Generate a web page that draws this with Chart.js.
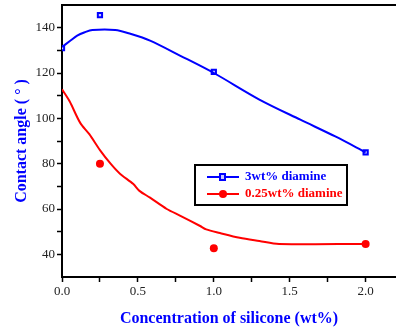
<!DOCTYPE html>
<html>
<head>
<meta charset="utf-8">
<script src="https://cdn.jsdelivr.net/npm/chart.js@4"></script>
<style>
  html, body { margin: 0; padding: 0; background: #fff; }
  #wrap { width: 396px; height: 328px; }
</style>
</head>
<body>
<div id="wrap"><canvas id="myCanvas" width="396" height="328"></canvas></div>
<script>
// measured points
const blueX = [0, 0.25, 1.0, 2.0];
const blueY = [131, 145.5, 120.5, 85];
const redX = [0.25, 1.0, 2.0];
const redY = [80, 42.7, 44.6];

// fitted curves
const blueFitX = [0, 0.05, 0.1, 0.15, 0.2, 0.35, 0.45, 0.58, 0.78, 1.0, 1.3, 1.57, 1.8, 2.0];
const blueFitY = [131.5, 134, 136.5, 138, 139, 139, 137.3, 134.3, 127.6, 120, 108.3, 99.4, 92, 85];
const redFitX = [0, 0.05, 0.12, 0.18, 0.25, 0.32, 0.38, 0.47, 0.51, 0.58, 0.69, 0.78, 0.91, 0.95, 1.04, 1.17, 1.3, 1.43, 2.0];
const redFitY = [112.8, 107.5, 98, 93, 86, 80, 75.7, 71, 68, 65, 60, 57, 52.5, 51, 49.4, 47.3, 45.9, 44.6, 44.6];

const xTicks = [0, 0.25, 0.5, 0.75, 1.0, 1.25, 1.5, 1.75, 2.0];
const yTicks = [40, 50, 60, 70, 80, 90, 100, 110, 120, 130, 140];

const seriesNames = ['3wt% diamine', '0.25wt% diamine'];
const blue = '#0000ff';
const red = '#ff0000';
const serif = '"Liberation Serif", "Times New Roman", serif';

const pts = (xs, ys) => xs.map((x, i) => ({ x: x, y: ys[i] }));

// top border line + legend box
const frame = {
  id: 'frame',
  afterDraw(chart) {
    const ctx = chart.ctx;
    const a = chart.chartArea;
    ctx.save();
    ctx.strokeStyle = '#000';
    ctx.lineWidth = 2;
    ctx.beginPath();
    ctx.moveTo(a.left - 1, a.top);
    ctx.lineTo(a.right, a.top);
    ctx.stroke();

    // legend
    const lx = 195, ly = 165, lw = 152, lh = 40;
    ctx.fillStyle = '#fff';
    ctx.fillRect(lx, ly, lw, lh);
    ctx.lineWidth = 2;
    ctx.strokeRect(lx, ly, lw, lh);
    const rows = [
      { c: blue, y: ly + 12, marker: 'rect' },
      { c: red, y: ly + 29, marker: 'circle' }
    ];
    rows.forEach((r, i) => {
      ctx.strokeStyle = r.c;
      ctx.lineWidth = 2;
      ctx.beginPath();
      ctx.moveTo(lx + 12, r.y);
      ctx.lineTo(lx + 44, r.y);
      ctx.stroke();
      if (r.marker === 'rect') {
        ctx.fillStyle = '#c8c8ff';
        ctx.fillRect(lx + 25, r.y - 3, 5, 6);
        ctx.strokeRect(lx + 25, r.y - 3, 5, 6);
      } else {
        ctx.fillStyle = r.c;
        ctx.beginPath();
        ctx.arc(lx + 28, r.y, 4, 0, Math.PI * 2);
        ctx.fill();
      }
      ctx.fillStyle = r.c;
      ctx.font = 'bold 13px ' + serif;
      ctx.textBaseline = 'middle';
      ctx.fillText(seriesNames[i], lx + 50, r.y);
    });
    ctx.restore();
  }
};

const config = {
  type: 'scatter',
  data: {
    datasets: [
      {
        label: seriesNames[0] + ' fit',
        data: pts(blueFitX, blueFitY),
        showLine: true,
        borderColor: blue,
        borderWidth: 2,
        pointRadius: 0,
        tension: 0.3
      },
      {
        label: seriesNames[1] + ' fit',
        data: pts(redFitX, redFitY),
        showLine: true,
        borderColor: red,
        borderWidth: 2,
        pointRadius: 0,
        tension: 0.3
      },
      {
        label: seriesNames[0],
        data: pts(blueX, blueY),
        pointStyle: 'rect',
        pointRadius: 3,
        borderColor: blue,
        backgroundColor: '#c8c8ff',
        borderWidth: 2
      },
      {
        label: seriesNames[1],
        data: pts(redX, redY),
        pointStyle: 'circle',
        pointRadius: 4,
        borderColor: red,
        backgroundColor: red,
        borderWidth: 0
      }
    ]
  },
  options: {
    responsive: false,
    animation: false,
    layout: { autoPadding: false, padding: { top: 5, right: 0, left: 0, bottom: 0 } },
    plugins: {
      legend: { display: false },
      tooltip: { enabled: false }
    },
    scales: {
      x: {
        type: 'linear',
        min: 0,
        max: 2.2,
        afterFit: s => { s.height = 51; s.paddingLeft = 0; s.paddingRight = 0; },
        afterBuildTicks: s => { s.ticks = xTicks.map(v => ({ value: v })); },
        border: { display: true, color: '#000', width: 2 },
        grid: { drawOnChartArea: false, drawTicks: true, tickLength: 5, color: '#000', tickWidth: 1.5 },
        ticks: {
          color: '#222',
          font: { family: serif, size: 13 },
          padding: 2,
          maxRotation: 0,
          autoSkip: false,
          callback: v => (Math.abs(v * 2 - Math.round(v * 2)) < 1e-6 ? v.toFixed(1) : '')
        },
        title: {
          display: true,
          text: 'Concentration of silicone (wt%)',
          color: blue,
          font: { family: serif, size: 16, weight: 'bold' },
          padding: { top: 6, bottom: 0 }
        }
      },
      y: {
        min: 30,
        max: 150,
        afterFit: s => { s.width = 62; s.paddingTop = 0; s.paddingBottom = 0; },
        afterBuildTicks: s => { s.ticks = yTicks.map(v => ({ value: v })); },
        border: { display: true, color: '#000', width: 2 },
        grid: { drawOnChartArea: false, drawTicks: true, tickLength: 5, color: '#000', tickWidth: 1.5 },
        ticks: {
          color: '#222',
          font: { family: serif, size: 13 },
          padding: 2,
          autoSkip: false,
          callback: v => (v % 20 === 0 ? String(v) : '')
        },
        title: {
          display: true,
          text: 'Contact angle ( ° )',
          color: blue,
          font: { family: serif, size: 16, weight: 'bold' },
          padding: { top: 12, bottom: 0 }
        }
      }
    }
  },
  plugins: [frame]
};

const myChart = new Chart(document.getElementById('myCanvas'), config);
</script>
</body>
</html>
